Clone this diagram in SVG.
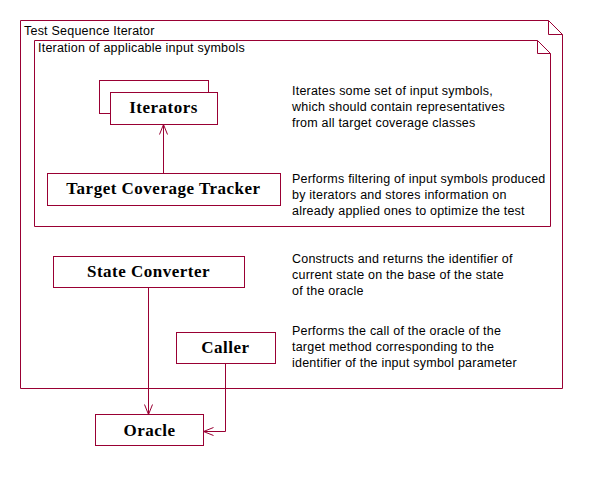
<svg xmlns="http://www.w3.org/2000/svg" width="592" height="483" viewBox="0 0 592 483">
<defs>
<style>
.frame{fill:#fff;stroke:#990033;stroke-width:1}
.box{fill:#fff;stroke:#990033;stroke-width:1}
.ln{fill:none;stroke:#990033;stroke-width:1}
.lbl{font-family:"Liberation Serif",serif;font-weight:bold;font-size:17px;letter-spacing:0.5px;fill:#000;text-anchor:middle}
.txt{font-family:"Liberation Sans",Arial,sans-serif;font-size:12.5px;letter-spacing:0.22px;fill:#000}
</style>
<marker id="arr" viewBox="0 0 12 12" refX="11" refY="6" markerWidth="12" markerHeight="12" markerUnits="userSpaceOnUse" orient="auto">
<path d="M1,2 L11,6 L1,10" fill="none" stroke="#990033" stroke-width="1"/>
</marker>
</defs>
<rect width="592" height="483" fill="#fff"/>
<g id="test-sequence-iterator">
<path class="frame" d="M20.5,20.5 H548.5 L562.5,34.5 V388.5 H20.5 Z"/>
<path class="ln" d="M548.5,20.5 V34.5 H562.5"/>
<text class="txt" x="24" y="35">Test Sequence Iterator</text>
</g>
<g id="iteration-frame">
<path class="frame" d="M34.5,40.5 H537.5 L550.5,53.5 V226.5 H34.5 Z"/>
<path class="ln" d="M537.5,40.5 V53.5 H550.5"/>
<text class="txt" x="38" y="52">Iteration of applicable input symbols</text>
</g>
<g id="connectors">
<line class="ln" x1="163.5" y1="173" x2="163.5" y2="124.5" marker-end="url(#arr)"/>
<line class="ln" x1="148.5" y1="287" x2="148.5" y2="414.5" marker-end="url(#arr)"/>
<polyline class="ln" points="225.5,363 225.5,431.5 203.5,431.5" marker-end="url(#arr)"/>
</g>
<g id="iterators">
<rect class="box" x="99.5" y="80.5" width="109" height="33"/>
<rect class="box" x="110.5" y="92.5" width="107" height="32"/>
<text class="lbl" x="163.5" y="113">Iterators</text>
</g>
<g id="target-coverage-tracker">
<rect class="box" x="47.5" y="173.5" width="233" height="32"/>
<text class="lbl" x="163.5" y="194">Target Coverage Tracker</text>
</g>
<g id="state-converter">
<rect class="box" x="53.5" y="256.5" width="191" height="31"/>
<text class="lbl" x="148.5" y="277">State Converter</text>
</g>
<g id="caller">
<rect class="box" x="176.5" y="332.5" width="99" height="31"/>
<text class="lbl" x="225.5" y="353">Caller</text>
</g>
<g id="oracle">
<rect class="box" x="95.5" y="414.5" width="108" height="31"/>
<text class="lbl" x="149.5" y="436">Oracle</text>
</g>
<g id="notes">
<text class="txt" x="292" y="95">Iterates some set of input symbols,</text>
<text class="txt" x="292" y="111">which should contain representatives</text>
<text class="txt" x="292" y="127">from all target coverage classes</text>
<text class="txt" x="292" y="183">Performs filtering of input symbols produced</text>
<text class="txt" x="292" y="199">by iterators and stores information on</text>
<text class="txt" x="292" y="215">already applied ones to optimize the test</text>
<text class="txt" x="292" y="263">Constructs and returns the identifier of</text>
<text class="txt" x="292" y="279">current state on the base of the state</text>
<text class="txt" x="292" y="295">of the oracle</text>
<text class="txt" x="292" y="335">Performs the call of the oracle of the</text>
<text class="txt" x="292" y="351">target method corresponding to the</text>
<text class="txt" x="292" y="367">identifier of the input symbol parameter</text>
</g>
</svg>
